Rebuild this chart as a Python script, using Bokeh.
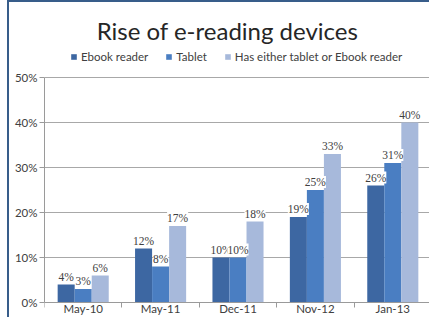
from bokeh.plotting import figure
from bokeh.models import (ColumnDataSource, FixedTicker, NumeralTickFormatter, Range1d,
                          LabelSet, Legend, LegendItem, Label)
from bokeh.transform import dodge
from bokeh.embed import file_html
from bokeh.resources import INLINE

categories = ["May-10", "May-11", "Dec-11", "Nov-12", "Jan-13"]
series_names = ["Ebook reader", "Tablet", "Has either tablet or Ebook reader"]
ebook = [4, 12, 10, 19, 26]
tablet = [3, 8, 10, 25, 31]
either = [6, 17, 18, 33, 40]
y_ticks = [0, 10, 20, 30, 40, 50]
title_text = "Rise of e-reading devices"

colors = ["#3D67A2", "#4A7EC2", "#A7B9DB"]
FONT = "Lato"
TXT = "#404040"

W, H = 422, 317
LEFT = 35
TOP_PX, ZERO_PX = 75, 300  # canvas rows of the 50% and 0% lines
ymax = y_ticks[-1] / 100
px_per_unit = (ZERO_PX - TOP_PX) / ymax
y_start = -(H - ZERO_PX) / px_per_unit
y_end = ymax + TOP_PX / px_per_unit

xs = [i + 0.5 for i in range(len(categories))]
data = dict(x=xs)
for key, vals in (("ebook", ebook), ("tablet", tablet), ("either", either)):
    data[key] = [v / 100 for v in vals]
    data[key + "_lbl"] = [f"{v}%" for v in vals]
src = ColumnDataSource(data)

p = figure(width=W, height=H, output_backend="svg", toolbar_location=None,
           x_range=Range1d(0, len(categories)), y_range=Range1d(y_start, y_end),
           min_border_left=LEFT, min_border_right=0, min_border_top=0, min_border_bottom=0)
p.margin = (0, 0, 0, 7)
p.styles = {"border-left": "2px solid #385D8A", "border-top": "2px solid #385D8A"}
p.outline_line_color = None
p.background_fill_color = "white"
p.border_fill_color = "white"

bw = 0.22
offsets = [-bw, 0, bw]
keys = ["ebook", "tablet", "either"]
renderers = []
for k, off, c in zip(keys, offsets, colors):
    r = p.vbar(x=dodge("x", off), top=k, width=bw, source=src, fill_color=c, line_color=None)
    renderers.append(r)
    lbl = LabelSet(x=dodge("x", off), y=k, text=k + "_lbl", source=src,
                   text_align="center", text_baseline="bottom", y_offset=2,
                   text_font=FONT, text_font_size="11.5px", text_color=TXT,
                   background_fill_color="white")
    p.add_layout(lbl)

# y axis
p.yaxis.ticker = FixedTicker(ticks=[t / 100 for t in y_ticks])
p.yaxis.formatter = NumeralTickFormatter(format="0%")
p.yaxis.bounds = (0, ymax)
p.yaxis.major_tick_out = 5
p.yaxis.major_tick_in = 0
p.yaxis.minor_tick_out = 0
p.yaxis.minor_tick_in = 0
p.yaxis.major_label_standoff = 2
p.yaxis.axis_line_color = "#9A9A9A"
p.yaxis.major_tick_line_color = "#9A9A9A"

# x axis drawn at the 0% line
p.xaxis.fixed_location = 0
p.xaxis.ticker = FixedTicker(ticks=xs, minor_ticks=list(range(len(categories) + 1)))
p.xaxis.major_label_overrides = {x: c for x, c in zip(xs, categories)}
p.xaxis.major_tick_out = 0
p.xaxis.major_tick_in = 0
p.xaxis.minor_tick_out = 5
p.xaxis.minor_tick_in = 0
p.xaxis.major_label_standoff = -6
p.xaxis.axis_line_color = "#9A9A9A"
p.xaxis.minor_tick_line_color = "#9A9A9A"

for ax in (p.xaxis, p.yaxis):
    ax.major_label_text_font = FONT
    ax.major_label_text_font_size = "11.5px"
    ax.major_label_text_color = TXT

p.xgrid.grid_line_color = None
p.ygrid.grid_line_color = "#A8A8A8"

legend = Legend(items=[LegendItem(label=n, renderers=[r]) for n, r in zip(series_names, renderers)],
                orientation="horizontal", location=(26, 256), glyph_width=7, glyph_height=7,
                label_standoff=4, spacing=17, padding=0, margin=0,
                label_text_font=FONT, label_text_font_size="11.5px", label_text_color=TXT,
                border_line_color=None, background_fill_alpha=0)
p.add_layout(legend, "center")

p.add_layout(Label(x=183, y=289, x_units="screen", y_units="screen", text=title_text,
                   text_align="center", text_baseline="middle", text_font=FONT,
                   text_font_size="24px", text_color="#262626"))

open("out.html", "w").write(file_html(p, INLINE))
